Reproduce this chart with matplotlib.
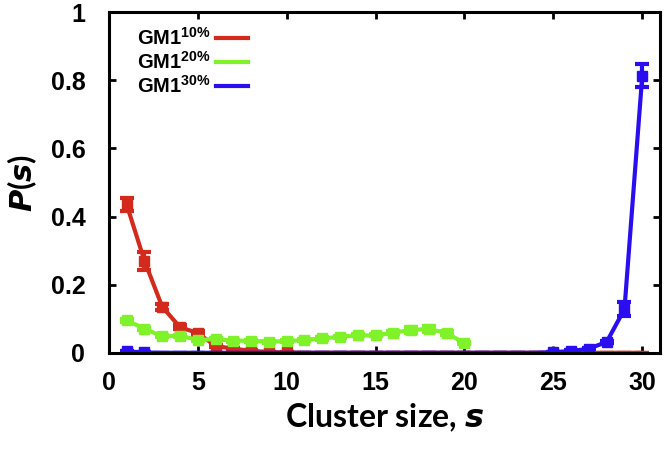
import matplotlib
matplotlib.use('Agg')
import matplotlib.pyplot as plt
import numpy as np

# cluster sizes
s = np.arange(1, 31)

# GM1 10%
p10 = [0.435, 0.270, 0.135, 0.075, 0.058, 0.020, 0.012, 0.006, 0.002, 0.001,
       0, 0, 0, 0, 0, 0, 0, 0, 0, 0, 0, 0, 0, 0, 0, 0, 0, 0, 0, 0]
e10 = [0.020, 0.027, 0.008, 0.006, 0.007, 0.004, 0.003, 0.002, 0.001, 0.001,
       0, 0, 0, 0, 0, 0, 0, 0, 0, 0, 0, 0, 0, 0, 0, 0, 0, 0, 0, 0]

# GM1 20% (sizes 1..20)
s20 = np.arange(1, 21)
p20 = [0.095, 0.071, 0.048, 0.050, 0.038, 0.040, 0.036, 0.035, 0.033, 0.034,
       0.038, 0.042, 0.047, 0.051, 0.051, 0.059, 0.067, 0.070, 0.058, 0.028]
e20 = [0.004, 0.004, 0.003, 0.003, 0.003, 0.003, 0.003, 0.003, 0.003, 0.003,
       0.003, 0.003, 0.003, 0.003, 0.003, 0.004, 0.008, 0.010, 0.006, 0.003]

# GM1 30%
p30 = [0.004, 0.001, 0, 0, 0, 0, 0, 0, 0, 0, 0, 0, 0, 0, 0, 0, 0, 0, 0, 0,
       0, 0, 0, 0, 0.002, 0.005, 0.012, 0.032, 0.128, 0.813]
e30 = [0, 0, 0, 0, 0, 0, 0, 0, 0, 0, 0, 0, 0, 0, 0, 0, 0, 0, 0, 0,
       0, 0, 0, 0, 0.001, 0.002, 0.003, 0.004, 0.020, 0.034]

labels = [r'GM1$^{\mathbf{10\%}}$', r'GM1$^{\mathbf{20\%}}$', r'GM1$^{\mathbf{30\%}}$']
colors = ['#d42a1e', '#80f22a', '#2a0ef0']

plt.rcParams['mathtext.fontset'] = 'custom'
plt.rcParams['mathtext.bf'] = 'Liberation Sans:bold'
plt.rcParams['mathtext.rm'] = 'Liberation Sans'

fig = plt.figure(figsize=(6.64, 4.5), dpi=100)
ax = fig.add_axes([0.164, 0.216, 0.83, 0.757])

for x, y, e, c, lab in [(s, p10, e10, colors[0], labels[0]),
                        (s20, p20, e20, colors[1], labels[1]),
                        (s, p30, e30, colors[2], labels[2])]:
    y = np.asarray(y)
    # points lying on the border are not marked (gnuplot style)
    ax.errorbar(x, y, yerr=e, color=c, lw=3, marker='s', ms=6.5,
                markevery=list(np.nonzero(y > 0)[0]),
                capsize=5, capthick=3, elinewidth=3)
    ax.plot([], [], color=c, lw=3, label=lab)

ax.set_xlim(0, 31)
ax.set_ylim(0, 1)
ax.set_xticks([0, 5, 10, 15, 20, 25, 30])
ax.set_yticks([0, 0.2, 0.4, 0.6, 0.8, 1])
ax.set_yticklabels(['0', '0.2', '0.4', '0.6', '0.8', '1'])
for sp in ax.spines.values():
    sp.set_linewidth(2.2)
    sp.set_zorder(5)
ax.tick_params(direction='in', length=5, width=2, top=True, right=True)
ax.tick_params(axis='x', pad=13)
ax.tick_params(axis='y', pad=17)
for t in ax.get_xticklabels() + ax.get_yticklabels():
    t.set_fontfamily('Liberation Sans')
    t.set_fontweight('bold')
    t.set_fontsize(18)

ax.set_xlabel(r'Cluster size, $\mathbfit{s}$', fontfamily='Lato', fontweight='bold',
              fontsize=23, labelpad=5)
ax.set_ylabel(r'$\mathbfit{P}$(' + r'$\mathbfit{s}$)', fontfamily='Lato', fontweight='bold',
              fontsize=22, labelpad=8)

leg = ax.legend(loc='upper left', bbox_to_anchor=(0.018, 1.01), frameon=False,
                markerfirst=False, handlelength=1.6, handletextpad=0.25,
                labelspacing=0.1, prop={'family': 'Liberation Sans', 'weight': 'bold', 'size': 14.5})

fig.savefig('out.png', dpi=100)
